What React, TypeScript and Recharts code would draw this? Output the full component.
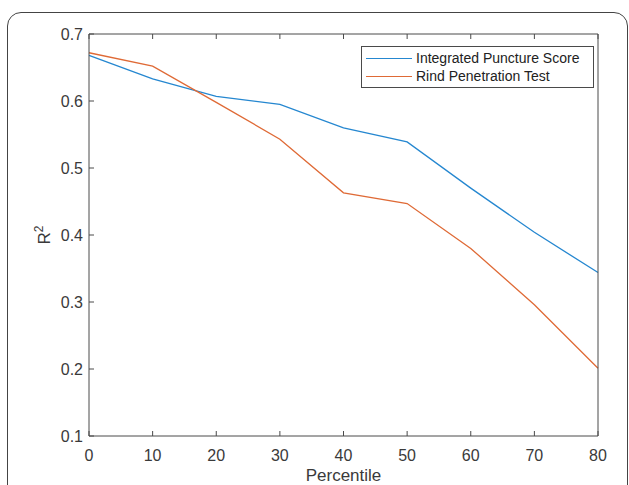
import { LineChart, Line, XAxis, YAxis, Legend, Label } from 'recharts';

const percentiles = [0, 10, 20, 30, 40, 50, 60, 70, 80];
const punctureScore = [0.668, 0.633, 0.607, 0.595, 0.560, 0.539, 0.470, 0.404, 0.344];
const rindTest = [0.672, 0.652, 0.598, 0.543, 0.463, 0.447, 0.380, 0.296, 0.201];
const xTicks = [0, 10, 20, 30, 40, 50, 60, 70, 80];
const yTicks = [0.1, 0.2, 0.3, 0.4, 0.5, 0.6, 0.7];

const BLUE = '#2587d0';
const ORANGE = '#df6a36';
const AXIS = '#4a4a4a';
const TEXT = '#3a3a3a';
const FONT = '"Liberation Sans", Arial, Helvetica, sans-serif';
const TICK_LEN = 5;

const series = [
  { key: 'ips', name: 'Integrated Puncture Score', color: BLUE },
  { key: 'rpt', name: 'Rind Penetration Test', color: ORANGE },
];

const data = percentiles.map((p, i) => ({
  p,
  ips: punctureScore[i],
  rpt: rindTest[i],
}));

// tick that draws its mark pointing into the plot (MATLAB style)
function InTick(props: any) {
  const { x, y, payload, side, gap = 0 } = props;
  let line = null;
  let label = null;
  if (side === 'bottom') {
    const ay = y - gap;
    line = <line x1={x} x2={x} y1={ay} y2={ay - TICK_LEN} stroke={AXIS} />;
    label = (
      <text x={x} y={y} dy="0.72em" textAnchor="middle" fill={TEXT} fontSize={16} fontFamily={FONT}>
        {payload.value}
      </text>
    );
  } else if (side === 'left') {
    const ax = x + gap;
    line = <line x1={ax} x2={ax + TICK_LEN} y1={y} y2={y} stroke={AXIS} />;
    label = (
      <text x={x} y={y} dy="0.36em" textAnchor="end" fill={TEXT} fontSize={16} fontFamily={FONT}>
        {Number(payload.value).toFixed(1)}
      </text>
    );
  } else if (side === 'top') {
    line = <line x1={x} x2={x} y1={y} y2={y + TICK_LEN} stroke={AXIS} />;
  } else {
    line = <line x1={x} x2={x - TICK_LEN} y1={y} y2={y} stroke={AXIS} />;
  }
  return (
    <g>
      {line}
      {label}
    </g>
  );
}

function LegendBox() {
  return (
    <div
      style={{
        boxSizing: 'border-box',
        width: 233,
        border: `1px solid ${AXIS}`,
        background: '#fff',
        padding: '2px 4px',
        fontFamily: FONT,
        fontSize: 14,
        color: '#222',
      }}
    >
      {series.map((s) => (
        <div key={s.key} style={{ display: 'flex', alignItems: 'center', height: 18 }}>
          <span
            style={{ width: 46, height: 0, borderTop: `1.3px solid ${s.color}`, marginRight: 4 }}
          />
          <span style={{ whiteSpace: 'nowrap' }}>{s.name}</span>
        </div>
      ))}
    </div>
  );
}

function YTitle(props: any) {
  const vb = props.viewBox || { x: 29, y: 34, width: 60, height: 402 };
  const x = vb.x + 21;
  const y = vb.y + vb.height / 2;
  return (
    <text
      x={x}
      y={y}
      transform={`rotate(-90, ${x}, ${y})`}
      textAnchor="middle"
      fill={TEXT}
      fontFamily={FONT}
      fontSize={17}
    >
      R
      <tspan fontSize={12} dy={-7}>
        2
      </tspan>
    </text>
  );
}

export default function App() {
  return (
    <div
      style={{
        position: 'absolute',
        left: 0,
        top: 0,
        width: 629,
        height: 485,
        overflow: 'hidden',
        background: '#fff',
      }}
    >
      <div
        style={{
          position: 'absolute',
          left: 7,
          top: 12,
          width: 619,
          height: 520,
          border: '1px solid #444',
          borderRadius: 14,
        }}
      />
      <LineChart
        width={629}
        height={485}
        data={data}
        margin={{ top: 33, right: 30, bottom: 4, left: 29 }}
      >
        <XAxis
          xAxisId="bottom"
          dataKey="p"
          type="number"
          domain={[0, 80]}
          ticks={xTicks}
          height={45}
          stroke={AXIS}
          tickLine={false}
          tickSize={0}
          tickMargin={13}
          tick={<InTick side="bottom" gap={13} />}
        >
          <Label
            value="Percentile"
            position="insideBottom"
            offset={0}
            fill={TEXT}
            fontSize={17}
            fontFamily={FONT}
          />
        </XAxis>
        <XAxis
          xAxisId="top"
          orientation="top"
          dataKey="p"
          type="number"
          domain={[0, 80]}
          ticks={xTicks}
          height={1}
          stroke={AXIS}
          tickLine={false}
          tickSize={0}
          tickMargin={0}
          tick={<InTick side="top" />}
        />
        <YAxis
          yAxisId="left"
          type="number"
          domain={[0.1, 0.7]}
          ticks={yTicks}
          width={60}
          stroke={AXIS}
          tickLine={false}
          tickSize={0}
          tickMargin={6}
          tick={<InTick side="left" gap={6} />}
          label={{ content: (p: any) => <YTitle {...p} /> }}
        />
        <YAxis
          yAxisId="right"
          orientation="right"
          type="number"
          domain={[0.1, 0.7]}
          ticks={yTicks}
          width={1}
          stroke={AXIS}
          tickLine={false}
          tickSize={0}
          tickMargin={0}
          tick={<InTick side="right" />}
        />
        <Legend
          layout="vertical"
          align="center"
          verticalAlign="middle"
          wrapperStyle={{ left: 361, top: 46, width: 233 }}
          content={() => <LegendBox />}
        />
        {series.map((s) => (
          <Line
            key={s.key}
            xAxisId="bottom"
            yAxisId="left"
            type="linear"
            dataKey={s.key}
            name={s.name}
            stroke={s.color}
            strokeWidth={1.3}
            dot={false}
            activeDot={false}
            isAnimationActive={false}
          />
        ))}
      </LineChart>
    </div>
  );
}
